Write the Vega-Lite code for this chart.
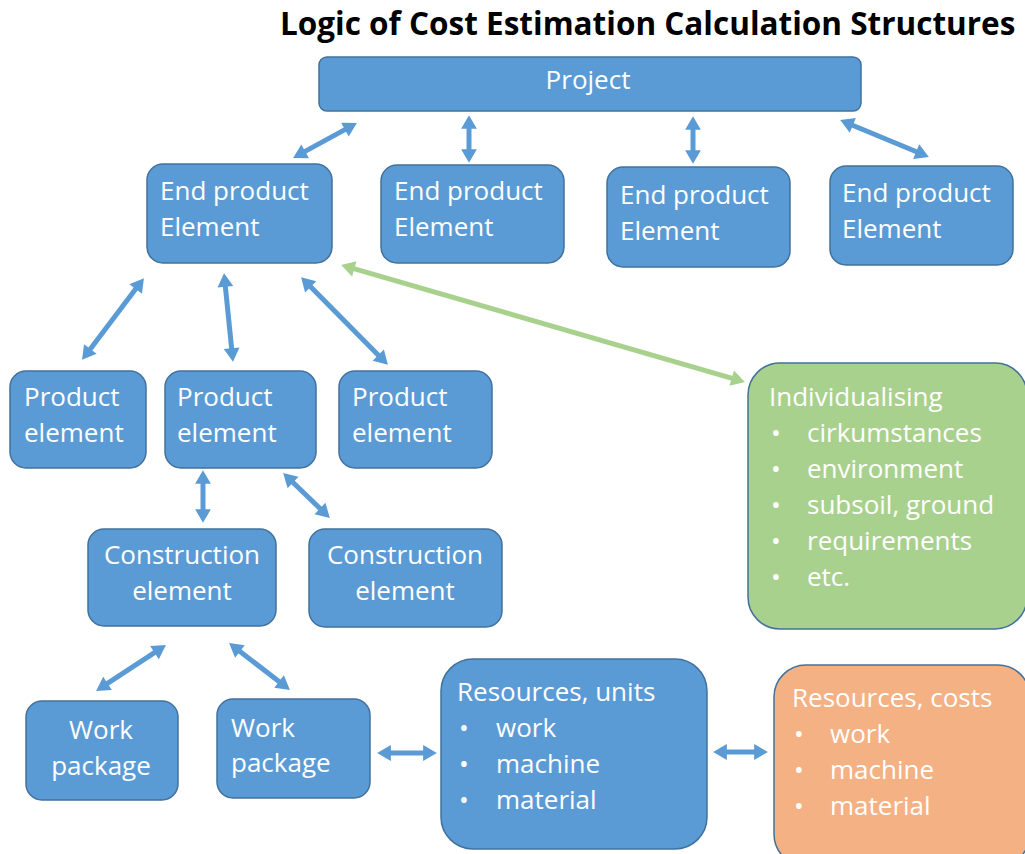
{
  "$schema": "https://vega.github.io/schema/vega-lite/v6.json",
  "width": 1025,
  "height": 854,
  "autosize": {"type": "none"},
  "padding": 0,
  "background": "white",
  "config": {"view": {"stroke": null}},
  "datasets": {
    "boxes": [
      {"id": "Project", "level": "top", "kind": "blue", "x": 319, "x2": 861, "y": 57, "y2": 111},
      {"id": "EPE1", "level": "element", "kind": "blue", "x": 147, "x2": 332, "y": 164, "y2": 263},
      {"id": "EPE2", "level": "element", "kind": "blue", "x": 381, "x2": 564, "y": 165, "y2": 263},
      {"id": "EPE3", "level": "element", "kind": "blue", "x": 607, "x2": 790, "y": 167, "y2": 267},
      {"id": "EPE4", "level": "element", "kind": "blue", "x": 830, "x2": 1013, "y": 166, "y2": 265},
      {"id": "PE1", "level": "element", "kind": "blue", "x": 10, "x2": 146, "y": 371, "y2": 468},
      {"id": "PE2", "level": "element", "kind": "blue", "x": 165, "x2": 316, "y": 371, "y2": 468},
      {"id": "PE3", "level": "element", "kind": "blue", "x": 339, "x2": 492, "y": 371, "y2": 468},
      {"id": "CE1", "level": "element", "kind": "blue", "x": 88, "x2": 276, "y": 529, "y2": 626},
      {"id": "CE2", "level": "element", "kind": "blue", "x": 309, "x2": 502, "y": 529, "y2": 627},
      {"id": "WP1", "level": "element", "kind": "blue", "x": 26, "x2": 178, "y": 701, "y2": 800},
      {"id": "WP2", "level": "element", "kind": "blue", "x": 217, "x2": 370, "y": 699, "y2": 798},
      {"id": "Indiv", "level": "list", "kind": "green", "x": 748, "x2": 1027, "y": 363, "y2": 629},
      {"id": "RU", "level": "list", "kind": "blue", "x": 441, "x2": 707, "y": 659, "y2": 849},
      {"id": "RC", "level": "list", "kind": "orange", "x": 774, "x2": 1030, "y": 665, "y2": 866}
    ],
    "shafts": [
      {"id": 1, "kind": "blue", "x": 350.9, "y": 126.4, "x2": 299.1, "y2": 154.6},
      {"id": 2, "kind": "blue", "x": 469, "y": 122, "x2": 469, "y2": 156},
      {"id": 3, "kind": "blue", "x": 693, "y": 123, "x2": 693, "y2": 157},
      {"id": 4, "kind": "blue", "x": 846.5, "y": 122.7, "x2": 922.5, "y2": 154.3},
      {"id": 5, "kind": "blue", "x": 139.8, "y": 283.6, "x2": 86.2, "y2": 354.4},
      {"id": 6, "kind": "blue", "x": 224.7, "y": 280.0, "x2": 232.3, "y2": 355.0},
      {"id": 7, "kind": "blue", "x": 305.9, "y": 282.0, "x2": 383.1, "y2": 360.0},
      {"id": 8, "kind": "green", "x": 347.7, "y": 266.9, "x2": 738.3, "y2": 380.1},
      {"id": 9, "kind": "blue", "x": 203, "y": 477, "x2": 203, "y2": 516},
      {"id": 10, "kind": "blue", "x": 288.1, "y": 477.8, "x2": 324.9, "y2": 513.2},
      {"id": 11, "kind": "blue", "x": 160.2, "y": 648.8, "x2": 101.8, "y2": 687.2},
      {"id": 12, "kind": "blue", "x": 234.5, "y": 647.3, "x2": 284.5, "y2": 685.7},
      {"id": 13, "kind": "blue", "x": 384, "y": 753, "x2": 430, "y2": 753},
      {"id": 14, "kind": "blue", "x": 720, "y": 752, "x2": 761, "y2": 752}
    ],
    "heads": [
      {"id": 1, "kind": "blue", "x": 350.9, "y": 126.4, "dir": 61.3},
      {"id": 1, "kind": "blue", "x": 299.1, "y": 154.6, "dir": 241.3},
      {"id": 2, "kind": "blue", "x": 469, "y": 122, "dir": 0},
      {"id": 2, "kind": "blue", "x": 469, "y": 156, "dir": 180},
      {"id": 3, "kind": "blue", "x": 693, "y": 123, "dir": 0},
      {"id": 3, "kind": "blue", "x": 693, "y": 157, "dir": 180},
      {"id": 4, "kind": "blue", "x": 846.5, "y": 122.7, "dir": 292.6},
      {"id": 4, "kind": "blue", "x": 922.5, "y": 154.3, "dir": 112.6},
      {"id": 5, "kind": "blue", "x": 139.8, "y": 283.6, "dir": 37.1},
      {"id": 5, "kind": "blue", "x": 86.2, "y": 354.4, "dir": 217.1},
      {"id": 6, "kind": "blue", "x": 224.7, "y": 280.0, "dir": 354.2},
      {"id": 6, "kind": "blue", "x": 232.3, "y": 355.0, "dir": 174.2},
      {"id": 7, "kind": "blue", "x": 305.9, "y": 282.0, "dir": 315.3},
      {"id": 7, "kind": "blue", "x": 383.1, "y": 360.0, "dir": 135.3},
      {"id": 8, "kind": "green", "x": 347.7, "y": 266.9, "dir": 286.2},
      {"id": 8, "kind": "green", "x": 738.3, "y": 380.1, "dir": 106.2},
      {"id": 9, "kind": "blue", "x": 203, "y": 477, "dir": 0},
      {"id": 9, "kind": "blue", "x": 203, "y": 516, "dir": 180},
      {"id": 10, "kind": "blue", "x": 288.1, "y": 477.8, "dir": 313.7},
      {"id": 10, "kind": "blue", "x": 324.9, "y": 513.2, "dir": 133.7},
      {"id": 11, "kind": "blue", "x": 160.2, "y": 648.8, "dir": 56.7},
      {"id": 11, "kind": "blue", "x": 101.8, "y": 687.2, "dir": 236.7},
      {"id": 12, "kind": "blue", "x": 234.5, "y": 647.3, "dir": 307.6},
      {"id": 12, "kind": "blue", "x": 284.5, "y": 685.7, "dir": 127.6},
      {"id": 13, "kind": "blue", "x": 384, "y": 753, "dir": 270},
      {"id": 13, "kind": "blue", "x": 430, "y": 753, "dir": 90},
      {"id": 14, "kind": "blue", "x": 720, "y": 752, "dir": 270},
      {"id": 14, "kind": "blue", "x": 761, "y": 752, "dir": 90}
    ],
    "labels": [
      {"role": "box", "anchor": "center", "x": 588, "y": 89, "text": "Project"},
      {"role": "box", "anchor": "left", "x": 160, "y": 200, "text": "End product"},
      {"role": "box", "anchor": "left", "x": 160, "y": 236, "text": "Element"},
      {"role": "box", "anchor": "left", "x": 394, "y": 200, "text": "End product"},
      {"role": "box", "anchor": "left", "x": 394, "y": 236, "text": "Element"},
      {"role": "box", "anchor": "left", "x": 620, "y": 204, "text": "End product"},
      {"role": "box", "anchor": "left", "x": 620, "y": 240, "text": "Element"},
      {"role": "box", "anchor": "left", "x": 842, "y": 202, "text": "End product"},
      {"role": "box", "anchor": "left", "x": 842, "y": 238, "text": "Element"},
      {"role": "box", "anchor": "left", "x": 24, "y": 406, "text": "Product"},
      {"role": "box", "anchor": "left", "x": 24, "y": 442, "text": "element"},
      {"role": "box", "anchor": "left", "x": 177, "y": 406, "text": "Product"},
      {"role": "box", "anchor": "left", "x": 177, "y": 442, "text": "element"},
      {"role": "box", "anchor": "left", "x": 352, "y": 406, "text": "Product"},
      {"role": "box", "anchor": "left", "x": 352, "y": 442, "text": "element"},
      {"role": "box", "anchor": "left", "x": 769, "y": 406, "text": "Individualising"},
      {"role": "box", "anchor": "left", "x": 771, "y": 442, "text": "•"},
      {"role": "box", "anchor": "left", "x": 807, "y": 442, "text": "cirkumstances"},
      {"role": "box", "anchor": "left", "x": 771, "y": 478, "text": "•"},
      {"role": "box", "anchor": "left", "x": 807, "y": 478, "text": "environment"},
      {"role": "box", "anchor": "left", "x": 771, "y": 514, "text": "•"},
      {"role": "box", "anchor": "left", "x": 807, "y": 514, "text": "subsoil, ground"},
      {"role": "box", "anchor": "left", "x": 771, "y": 550, "text": "•"},
      {"role": "box", "anchor": "left", "x": 807, "y": 550, "text": "requirements"},
      {"role": "box", "anchor": "left", "x": 771, "y": 586, "text": "•"},
      {"role": "box", "anchor": "left", "x": 807, "y": 586, "text": "etc."},
      {"role": "box", "anchor": "center", "x": 182, "y": 564, "text": "Construction"},
      {"role": "box", "anchor": "center", "x": 182, "y": 600, "text": "element"},
      {"role": "box", "anchor": "center", "x": 405, "y": 564, "text": "Construction"},
      {"role": "box", "anchor": "center", "x": 405, "y": 600, "text": "element"},
      {"role": "box", "anchor": "center", "x": 101, "y": 739, "text": "Work"},
      {"role": "box", "anchor": "center", "x": 101, "y": 775, "text": "package"},
      {"role": "box", "anchor": "left", "x": 231, "y": 737, "text": "Work"},
      {"role": "box", "anchor": "left", "x": 231, "y": 772, "text": "package"},
      {"role": "box", "anchor": "left", "x": 457, "y": 701, "text": "Resources, units"},
      {"role": "box", "anchor": "left", "x": 459, "y": 737, "text": "•"},
      {"role": "box", "anchor": "left", "x": 496, "y": 737, "text": "work"},
      {"role": "box", "anchor": "left", "x": 459, "y": 773, "text": "•"},
      {"role": "box", "anchor": "left", "x": 496, "y": 773, "text": "machine"},
      {"role": "box", "anchor": "left", "x": 459, "y": 809, "text": "•"},
      {"role": "box", "anchor": "left", "x": 496, "y": 809, "text": "material"},
      {"role": "box", "anchor": "left", "x": 792, "y": 707, "text": "Resources, costs"},
      {"role": "box", "anchor": "left", "x": 794, "y": 743, "text": "•"},
      {"role": "box", "anchor": "left", "x": 830, "y": 743, "text": "work"},
      {"role": "box", "anchor": "left", "x": 794, "y": 779, "text": "•"},
      {"role": "box", "anchor": "left", "x": 830, "y": 779, "text": "machine"},
      {"role": "box", "anchor": "left", "x": 794, "y": 815, "text": "•"},
      {"role": "box", "anchor": "left", "x": 830, "y": 815, "text": "material"},
      {"role": "title", "anchor": "left", "x": 280, "y": 35, "text": "Logic of Cost Estimation Calculation Structures"}
    ]
  },
  "encoding": {
    "x": {"field": "x", "type": "quantitative", "axis": null, "scale": {"domain": [0, 1025], "nice": false, "zero": false}},
    "y": {"field": "y", "type": "quantitative", "axis": null, "scale": {"domain": [0, 854], "nice": false, "zero": false, "reverse": true}}
  },
  "layer": [
    {
      "data": {"name": "boxes"},
      "transform": [{"filter": "datum.level == 'top'"}],
      "mark": {"type": "rect", "cornerRadius": 8, "stroke": "#41719C", "strokeWidth": 1.5},
      "encoding": {
        "x2": {"field": "x2"},
        "y2": {"field": "y2"},
        "fill": {"field": "kind", "type": "nominal", "legend": null, "scale": {"domain": ["blue", "green", "orange"], "range": ["#5B9BD5", "#A9D18E", "#F4B183"]}}
      }
    },
    {
      "data": {"name": "boxes"},
      "transform": [{"filter": "datum.level == 'element'"}],
      "mark": {"type": "rect", "cornerRadius": 16, "stroke": "#41719C", "strokeWidth": 1.5},
      "encoding": {
        "x2": {"field": "x2"},
        "y2": {"field": "y2"},
        "fill": {"field": "kind", "type": "nominal", "legend": null, "scale": {"domain": ["blue", "green", "orange"], "range": ["#5B9BD5", "#A9D18E", "#F4B183"]}}
      }
    },
    {
      "data": {"name": "boxes"},
      "transform": [{"filter": "datum.level == 'list'"}],
      "mark": {"type": "rect", "cornerRadius": 32, "stroke": "#41719C", "strokeWidth": 1.5},
      "encoding": {
        "x2": {"field": "x2"},
        "y2": {"field": "y2"},
        "fill": {"field": "kind", "type": "nominal", "legend": null, "scale": {"domain": ["blue", "green", "orange"], "range": ["#5B9BD5", "#A9D18E", "#F4B183"]}}
      }
    },
    {
      "data": {"name": "shafts"},
      "mark": {"type": "rule", "strokeWidth": 5},
      "encoding": {
        "x2": {"field": "x2"},
        "y2": {"field": "y2"},
        "color": {"field": "kind", "type": "nominal", "legend": null, "scale": {"domain": ["blue", "green", "orange"], "range": ["#5B9BD5", "#A9D18E", "#F4B183"]}}
      }
    },
    {
      "data": {"name": "heads"},
      "mark": {"type": "point", "shape": "triangle-up", "filled": true, "opacity": 1, "size": 250, "strokeWidth": 0},
      "encoding": {
        "angle": {"field": "dir", "type": "quantitative", "scale": null},
        "color": {"field": "kind", "type": "nominal", "legend": null, "scale": {"domain": ["blue", "green", "orange"], "range": ["#5B9BD5", "#A9D18E", "#F4B183"]}}
      }
    },
    {
      "data": {"name": "labels"},
      "transform": [{"filter": "datum.role == 'box' && datum.anchor == 'left'"}],
      "mark": {"type": "text", "align": "left", "baseline": "alphabetic", "font": "Open Sans", "fontSize": 26, "color": "white"},
      "encoding": {"text": {"field": "text"}}
    },
    {
      "data": {"name": "labels"},
      "transform": [{"filter": "datum.role == 'box' && datum.anchor == 'center'"}],
      "mark": {"type": "text", "align": "center", "baseline": "alphabetic", "font": "Open Sans", "fontSize": 26, "color": "white"},
      "encoding": {"text": {"field": "text"}}
    },
    {
      "data": {"name": "labels"},
      "transform": [{"filter": "datum.role == 'title'"}],
      "mark": {"type": "text", "align": "left", "baseline": "alphabetic", "font": "Open Sans", "fontSize": 31.5, "fontWeight": "bold", "color": "black"},
      "encoding": {"text": {"field": "text"}}
    }
  ]
}
